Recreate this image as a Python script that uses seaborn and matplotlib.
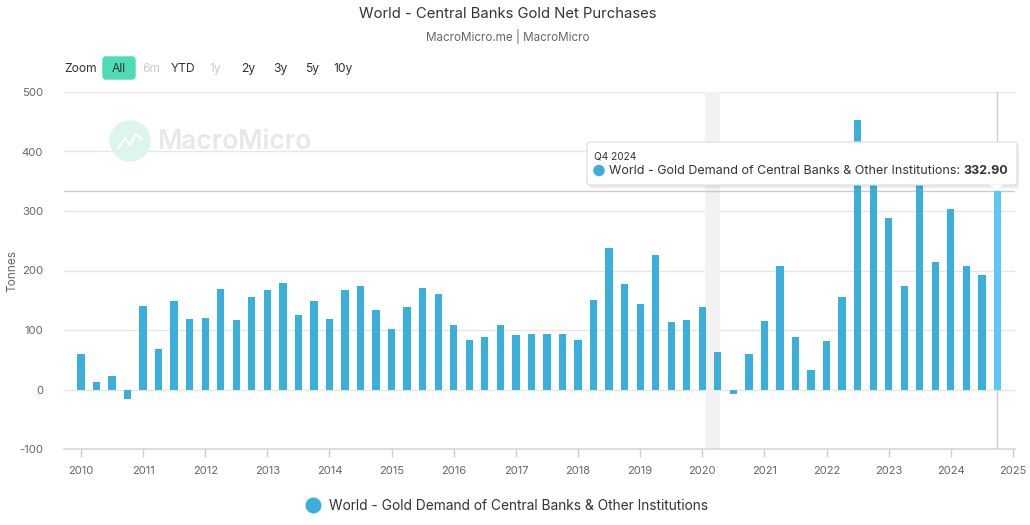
import numpy as np
import pandas as pd
import seaborn as sns
import matplotlib.pyplot as plt
from matplotlib.patches import FancyBboxPatch, Circle, Polygon
from matplotlib.lines import Line2D

#%% data (tonnes, quarterly)
years = list(range(2010, 2025))
quarters = [f"Q{q} {y}" for y in years for q in range(1, 5)]
values = [
    59, 13, 23, -16,      # 2010
    141, 68, 148, 118,    # 2011
    121, 169, 117, 156,   # 2012
    168, 179, 126, 149,   # 2013
    118, 168, 174, 134,   # 2014
    101, 139, 171, 161,   # 2015
    109, 84, 88, 109,     # 2016
    91, 94, 94, 93,       # 2017
    83, 151, 238, 177,    # 2018
    144, 226, 113, 117,   # 2019
    139, 63, -7, 59,      # 2020
    115, 208, 89, 33,     # 2021
    81, 156, 453, 382,    # 2022
    288, 174, 362, 214,   # 2023
    303, 208, 193, 332.9, # 2024
]
tick_years = list(range(2010, 2026))
y_ticks = [-100, 0, 100, 200, 300, 400, 500]
zoom_buttons = ["6m", "YTD", "1y", "2y", "3y", "5y", "10y"]
zoom_enabled = [False, True, False, True, True, True, True]
series_name = "World - Gold Demand of Central Banks & Other Institutions"

df = pd.DataFrame({"quarter": quarters, "value": values})

BAR = "#3aafdb"
HILITE = "#5bc8f5"
GRID = "#e6e6e6"
TXT = "#666666"

#%% plot
sns.set_theme(style="white")
plt.rcParams["font.family"] = ["Inter", "DejaVu Sans"]

W, H = 1030, 525
fig = plt.figure(figsize=(W / 100, H / 100), dpi=100)
ax = fig.add_axes([64 / W, 1 - 449 / H, (1015 - 64) / W, (449 - 92) / H])

sns.barplot(data=df, x="quarter", y="value", color=BAR, width=0.47,
            saturation=1, ax=ax, zorder=3, linewidth=0)
ax.patches[-1].set_facecolor(HILITE)

n = len(quarters)
ax.set_xlim(-1.09, 60.13)
ax.set_ylim(-100, 500)
ax.set_xticks([4 * i for i in range(len(tick_years))])
ax.set_xticklabels([str(y) for y in tick_years])
ax.set_yticks(y_ticks)
ax.set_yticklabels([str(v) for v in y_ticks])
ax.grid(axis="y", color=GRID, lw=1, zorder=0)
ax.set_axisbelow(True)
for s in ["top", "right", "left"]:
    ax.spines[s].set_visible(False)
ax.spines["bottom"].set_color("#d8d8d8")
ax.tick_params(axis="x", colors="#cccccc", length=6, width=1, labelcolor=TXT,
               labelsize=8, pad=6, bottom=True)
ax.tick_params(axis="y", length=0, labelcolor=TXT, labelsize=8.2, pad=15)
ax.set_xlabel("")
ax.set_ylabel("Tonnes", color=TXT, fontsize=8.5)
ax.yaxis.set_label_coords(-46 / 951, 0.5)

# recession band, crosshair
ax.axvspan(40.18, 41.15, color="#f2f2f2", zorder=1, lw=0)
ax.axvline(n - 1, color="#cccccc", lw=1, zorder=2)
ax.axhline(values[-1], color="#cccccc", lw=1, zorder=2)

# watermark
px = lambda x: x / 100
py = lambda y: (H - y) / 100
fig.patches.append(Circle((px(130), py(141)), 0.2, transform=fig.dpi_scale_trans,
                          color="#dcf6ef", zorder=0))
fig.lines.append(Line2D([px(118), px(125), px(130), px(136), px(142)],
                        [py(148), py(138), py(145), py(134), py(139)],
                        transform=fig.dpi_scale_trans, color="white", lw=1.5))
fig.text(157 / W, 1 - 142 / H, "MacroMicro", fontsize=19, color="#e8e8e8",
         weight="semibold", va="center", ha="left", zorder=0)

# titles
fig.text(508 / W, 1 - 14 / H, "World - Central Banks Gold Net Purchases",
         ha="center", va="center", fontsize=10.7, color="#333333")
fig.text(508 / W, 1 - 37 / H, "MacroMicro.me | MacroMicro",
         ha="center", va="center", fontsize=8.4, color=TXT)

# zoom buttons
fig.text(64 / W, 1 - 69 / H, "Zoom", ha="left", va="center", fontsize=8.7, color="#333333")
fig.patches.append(FancyBboxPatch((px(103), py(79)), px(32), px(22),
                                  boxstyle="round,pad=0,rounding_size=0.03",
                                  transform=fig.dpi_scale_trans, color="#4ddcb6"))
fig.text(119 / W, 1 - 69 / H, "All", ha="center", va="center", fontsize=8.7, color="#333333")
for lab, en, cx in zip(zoom_buttons, zoom_enabled, [151, 183, 215, 248, 280, 312, 343]):
    fig.text(cx / W, 1 - 69 / H, lab, ha="center", va="center", fontsize=8.7,
             color="#333333" if en else "#cccccc")

# tooltip
fig.patches.append(FancyBboxPatch((px(589), py(188)), px(430), px(44),
                                  boxstyle="round,pad=0,rounding_size=0.03",
                                  transform=fig.dpi_scale_trans, color="#000000",
                                  alpha=0.08, lw=0))
fig.patches.append(FancyBboxPatch((px(587), py(185)), px(430), px(43),
                                  boxstyle="round,pad=0,rounding_size=0.03",
                                  transform=fig.dpi_scale_trans, facecolor="white",
                                  edgecolor="#dddddd", lw=0.8))
fig.patches.append(Polygon([(px(989), py(184.5)), (px(1003), py(184.5)), (px(997), py(191))],
                           closed=True, transform=fig.dpi_scale_trans, facecolor="white",
                           edgecolor="none"))
fig.text(594 / W, 1 - 156 / H, quarters[-1], ha="left", va="center", fontsize=7.3, color="#333333")
fig.patches.append(Circle((px(599), py(170.5)), 0.05, transform=fig.dpi_scale_trans, color=BAR))
fig.text(609 / W, 1 - 171 / H, series_name + ":", ha="left", va="center",
         fontsize=9, color="#333333")
fig.text(1008 / W, 1 - 171 / H, f"{values[-1]:.2f}", ha="right", va="center",
         fontsize=9, color="#333333", weight="bold")

# legend
handle = Line2D([], [], marker="o", ls="", color=BAR, markersize=10.5)
fig.legend([handle], [series_name], loc="center", bbox_to_anchor=(504 / W, 1 - 506 / H),
           frameon=False, fontsize=9.9, handletextpad=0.15, labelcolor="#333333")

plt.savefig("out.png", dpi=100)
plt.close()
